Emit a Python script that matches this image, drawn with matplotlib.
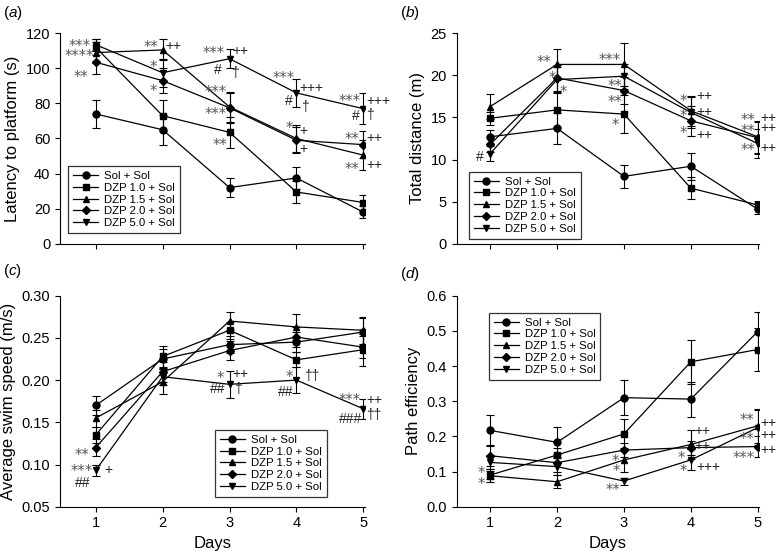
import numpy as np
import matplotlib.pyplot as plt

plt.rcParams['font.family'] = 'Liberation Sans'
plt.rcParams['mathtext.fontset'] = 'custom'
plt.rcParams['mathtext.it'] = 'Liberation Sans:italic'
plt.rcParams['mathtext.rm'] = 'Liberation Sans'

days = [1, 2, 3, 4, 5]
groups = ['Sol + Sol', 'DZP 1.0 + Sol', 'DZP 1.5 + Sol', 'DZP 2.0 + Sol', 'DZP 5.0 + Sol']

# (a) latency to platform (s)
lat_sol = [74, 65, 32, 37.5, 18]
lat_d10 = [112, 73, 63.5, 29.5, 23.5]
lat_d15 = [109, 110.5, 78, 60, 50.5]
lat_d20 = [103.5, 93, 77.5, 59, 56.5]
lat_d50 = [113.5, 97.5, 105.5, 86, 77]
lat_sol_err = [8, 8.5, 5.5, 6.5, 3.5]
lat_d10_err = [4.5, 9, 9, 6, 4.5]
lat_d15_err = [6, 6, 8.5, 7.5, 8.5]
lat_d20_err = [6.5, 7, 8.5, 7.5, 7.5]
lat_d50_err = [3.5, 8, 5.5, 8, 9]

# (b) total distance (m)
dist_sol = [12.7, 13.7, 8.0, 9.2, 4.1]
dist_d10 = [14.9, 15.9, 15.4, 6.6, 4.6]
dist_d15 = [16.3, 21.3, 21.3, 15.8, 12.7]
dist_d20 = [11.8, 19.7, 18.2, 14.6, 12.6]
dist_d50 = [10.7, 19.5, 19.9, 15.6, 11.9]
dist_sol_err = [0.8, 1.8, 1.4, 1.6, 0.6]
dist_d10_err = [0.8, 2.0, 2.3, 1.3, 0.5]
dist_d15_err = [1.5, 1.8, 2.6, 1.8, 1.9]
dist_d20_err = [0.9, 1.5, 1.6, 1.8, 1.9]
dist_d50_err = [0.9, 1.5, 1.5, 1.8, 1.7]

# (c) average swim speed (m/s)
spd_sol = [0.170, 0.225, 0.242, 0.245, 0.257]
spd_d10 = [0.135, 0.228, 0.259, 0.224, 0.236]
spd_d15 = [0.155, 0.198, 0.270, 0.263, 0.259]
spd_d20 = [0.120, 0.210, 0.235, 0.251, 0.239]
spd_d50 = [0.093, 0.204, 0.195, 0.200, 0.166]
spd_sol_err = [0.011, 0.012, 0.010, 0.012, 0.016]
spd_d10_err = [0.010, 0.012, 0.010, 0.009, 0.019]
spd_d15_err = [0.010, 0.015, 0.011, 0.015, 0.016]
spd_d20_err = [0.010, 0.012, 0.011, 0.012, 0.013]
spd_d50_err = [0.007, 0.010, 0.016, 0.015, 0.012]

# (d) path efficiency
eff_sol = [0.217, 0.183, 0.310, 0.306, 0.498]
eff_d10 = [0.090, 0.147, 0.207, 0.412, 0.447]
eff_d15 = [0.088, 0.071, 0.133, 0.177, 0.230]
eff_d20 = [0.145, 0.125, 0.161, 0.168, 0.171]
eff_d50 = [0.126, 0.114, 0.073, 0.133, 0.225]
eff_sol_err = [0.045, 0.043, 0.050, 0.050, 0.055]
eff_d10_err = [0.012, 0.020, 0.042, 0.062, 0.060]
eff_d15_err = [0.018, 0.018, 0.035, 0.042, 0.048]
eff_d20_err = [0.030, 0.025, 0.020, 0.020, 0.030]
eff_d50_err = [0.020, 0.025, 0.010, 0.030, 0.050]

# significance marks: (day, value, text, alignment)
marks_a = [(0.92, 120.5, '***', 'right'), (0.92, 115, '***', 'right'), (0.97, 109.5, '****', 'right'),
           (0.89, 97.5, '**', 'right'), (1.94, 114.5, '**', 'right'), (2.04, 112.5, '++', 'left'),
           (1.92, 103, '*', 'right'), (1.92, 89.5, '*', 'right'), (2.93, 111.5, '***', 'right'),
           (3.05, 110, '++', 'left'), (2.82, 99, '#', 'center'), (3.08, 97.5, '†', 'center'),
           (2.96, 89, '***', 'right'), (2.96, 76.5, '***', 'right'), (2.96, 59, '**', 'right'),
           (3.98, 97, '***', 'right'), (4.04, 89, '+++', 'left'), (3.88, 81.5, '#', 'center'),
           (4.13, 78, '†', 'center'), (3.9, 68.5, '*', 'center'), (4.04, 64, '+', 'left'),
           (4.04, 54, '+', 'left'), (4.96, 84, '***', 'right'), (5.04, 81.5, '+++', 'left'),
           (4.89, 73, '#', 'center'), (5.1, 73.5, '†', 'center'), (4.94, 62, '**', 'right'),
           (5.04, 60.5, '++', 'left'), (4.94, 45, '**', 'right'), (5.04, 45, '++', 'left')]
marks_b = [(0.84, 10.3, '#', 'center'), (1.92, 22.1, '**', 'right'), (1.93, 20.2, '*', 'center'),
           (2.1, 18.6, '*', 'center'), (2.95, 22.3, '***', 'right'), (2.97, 19.3, '**', 'right'),
           (2.97, 17.3, '**', 'right'), (2.87, 14.6, '*', 'center'), (3.89, 17.5, '*', 'center'),
           (4.08, 17.5, '++', 'left'), (3.89, 15.7, '*', 'center'), (4.08, 15.7, '++', 'left'),
           (3.89, 13.7, '*', 'center'), (4.08, 12.9, '++', 'left'), (4.96, 15.2, '**', 'right'),
           (5.04, 14.9, '++', 'left'), (4.96, 13.9, '**', 'right'), (5.04, 13.7, '++', 'left'),
           (4.96, 11.7, '**', 'right'), (5.04, 11.4, '++', 'left')]
marks_c = [(2.86, 0.208, '*', 'center'), (3.05, 0.207, '++', 'left'), (2.94, 0.189, '##', 'right'),
           (3.13, 0.190, '†', 'center'), (3.9, 0.209, '*', 'center'), (4.12, 0.205, '††', 'left'),
           (3.96, 0.186, '##', 'right'), (4.96, 0.182, '***', 'right'), (5.04, 0.177, '++', 'left'),
           (4.98, 0.154, '###', 'right'), (5.04, 0.159, '††', 'left'), (0.9, 0.117, '**', 'right'),
           (0.96, 0.098, '***', 'right'), (1.19, 0.093, '+', 'center'), (0.92, 0.078, '##', 'right')]
marks_d = [(0.86, 0.108, '*', 'center'), (0.86, 0.076, '*', 'center'), (2.87, 0.142, '*', 'center'),
           (2.89, 0.114, '*', 'center'), (2.95, 0.059, '**', 'right'), (4.06, 0.214, '++', 'left'),
           (3.86, 0.152, '*', 'center'), (4.06, 0.173, '++', 'left'), (3.89, 0.114, '*', 'center'),
           (4.08, 0.112, '+++', 'left'), (4.95, 0.258, '**', 'right'), (5.04, 0.237, '++', 'left'),
           (4.95, 0.204, '**', 'right'), (5.04, 0.204, '++', 'left'), (4.95, 0.152, '***', 'right'),
           (5.04, 0.161, '++', 'left')]

markers = ['o', 's', '^', 'D', 'v']
msizes = [5, 4.6, 5, 4.2, 5]

fig = plt.figure(figsize=(7.82, 5.53), dpi=100)
ax_a = fig.add_axes([0.0767, 0.5593, 0.3896, 0.3805])
ax_b = fig.add_axes([0.5840, 0.5593, 0.3867, 0.3805])
ax_c = fig.add_axes([0.0767, 0.0837, 0.3896, 0.3816])
ax_d = fig.add_axes([0.5840, 0.0837, 0.3867, 0.3816])

panels = [
    (ax_a, [lat_sol, lat_d10, lat_d15, lat_d20, lat_d50],
     [lat_sol_err, lat_d10_err, lat_d15_err, lat_d20_err, lat_d50_err], marks_a),
    (ax_b, [dist_sol, dist_d10, dist_d15, dist_d20, dist_d50],
     [dist_sol_err, dist_d10_err, dist_d15_err, dist_d20_err, dist_d50_err], marks_b),
    (ax_c, [spd_sol, spd_d10, spd_d15, spd_d20, spd_d50],
     [spd_sol_err, spd_d10_err, spd_d15_err, spd_d20_err, spd_d50_err], marks_c),
    (ax_d, [eff_sol, eff_d10, eff_d15, eff_d20, eff_d50],
     [eff_sol_err, eff_d10_err, eff_d15_err, eff_d20_err, eff_d50_err], marks_d),
]

leg_kw = dict(fontsize=8.2, frameon=True, fancybox=False, edgecolor='black',
              labelspacing=0.15, handlelength=2.2, borderpad=0.45, handletextpad=0.5,
              borderaxespad=0)

for ax, series, errs, marks in panels:
    for vals, err, mk, ms, lab in zip(series, errs, markers, msizes, groups):
        ax.errorbar(days, vals, yerr=err, fmt='none', ecolor='black', elinewidth=0.8,
                    capsize=3, capthick=0.8)
        ax.plot(days, vals, color='black', lw=0.9, marker=mk, ms=ms, label=lab)
    for x, y, t, ha in marks:
        if '*' in t:
            # asterisks: wider glyph, nudged down so the star sits on the point
            ax.annotate(t, (x, y), xytext=(0, -3.5), textcoords='offset points', ha=ha,
                        va='center', fontsize=10.5, color='#555555', family='DejaVu Sans')
        else:
            ax.text(x, y, t, ha=ha, va='center', fontsize=10, color='#222222')
    ax.spines['top'].set_visible(False)
    ax.spines['right'].set_visible(False)
    ax.tick_params(direction='out', length=3.5, labelsize=10.5)
    ax.set_xticks(days)

# (a)
ax_a.set_xlim(0.466, 5.02)
ax_a.set_ylim(0, 120)
ax_a.set_yticks([0, 20, 40, 60, 80, 100, 120])
ax_a.set_xticklabels([])
ax_a.set_ylabel('Latency to platform (s)', fontsize=12)
ax_a.legend(loc='lower left', bbox_to_anchor=(0.027, 0.05), **leg_kw).get_frame().set_linewidth(0.9)

# (b)
ax_b.set_xlim(0.50, 5.02)
ax_b.set_ylim(0, 25)
ax_b.set_yticks([0, 5, 10, 15, 20, 25])
ax_b.set_xticklabels([])
ax_b.set_ylabel('Total distance (m)', fontsize=12)
ax_b.legend(loc='lower left', bbox_to_anchor=(0.04, 0.024), **leg_kw).get_frame().set_linewidth(0.9)

# (c)
ax_c.set_xlim(0.466, 5.02)
ax_c.set_ylim(0.05, 0.30)
ax_c.set_yticks([0.05, 0.10, 0.15, 0.20, 0.25, 0.30])
ax_c.set_yticklabels(['0.05', '0.10', '0.15', '0.20', '0.25', '0.30'])
ax_c.set_ylabel('Average swim speed (m/s)', fontsize=12)
ax_c.set_xlabel('Days', fontsize=12)
ax_c.legend(loc='lower left', bbox_to_anchor=(0.508, 0.047), **leg_kw).get_frame().set_linewidth(0.9)

# (d)
ax_d.set_xlim(0.50, 5.02)
ax_d.set_ylim(0, 0.6)
ax_d.set_yticks([0, 0.1, 0.2, 0.3, 0.4, 0.5, 0.6])
ax_d.set_yticklabels(['0.0', '0.1', '0.2', '0.3', '0.4', '0.5', '0.6'])
ax_d.set_ylabel('Path efficiency', fontsize=12)
ax_d.set_xlabel('Days', fontsize=12)
ax_d.legend(loc='upper left', bbox_to_anchor=(0.106, 0.92), **leg_kw).get_frame().set_linewidth(0.9)

fig.text(0.004, 0.976, r'($\it{a}$)', fontsize=11, va='center')
fig.text(0.512, 0.976, r'($\it{b}$)', fontsize=11, va='center')
fig.text(0.004, 0.510, r'($\it{c}$)', fontsize=11, va='center')
fig.text(0.512, 0.505, r'($\it{d}$)', fontsize=11, va='center')

fig.savefig('out.png', dpi=100)
